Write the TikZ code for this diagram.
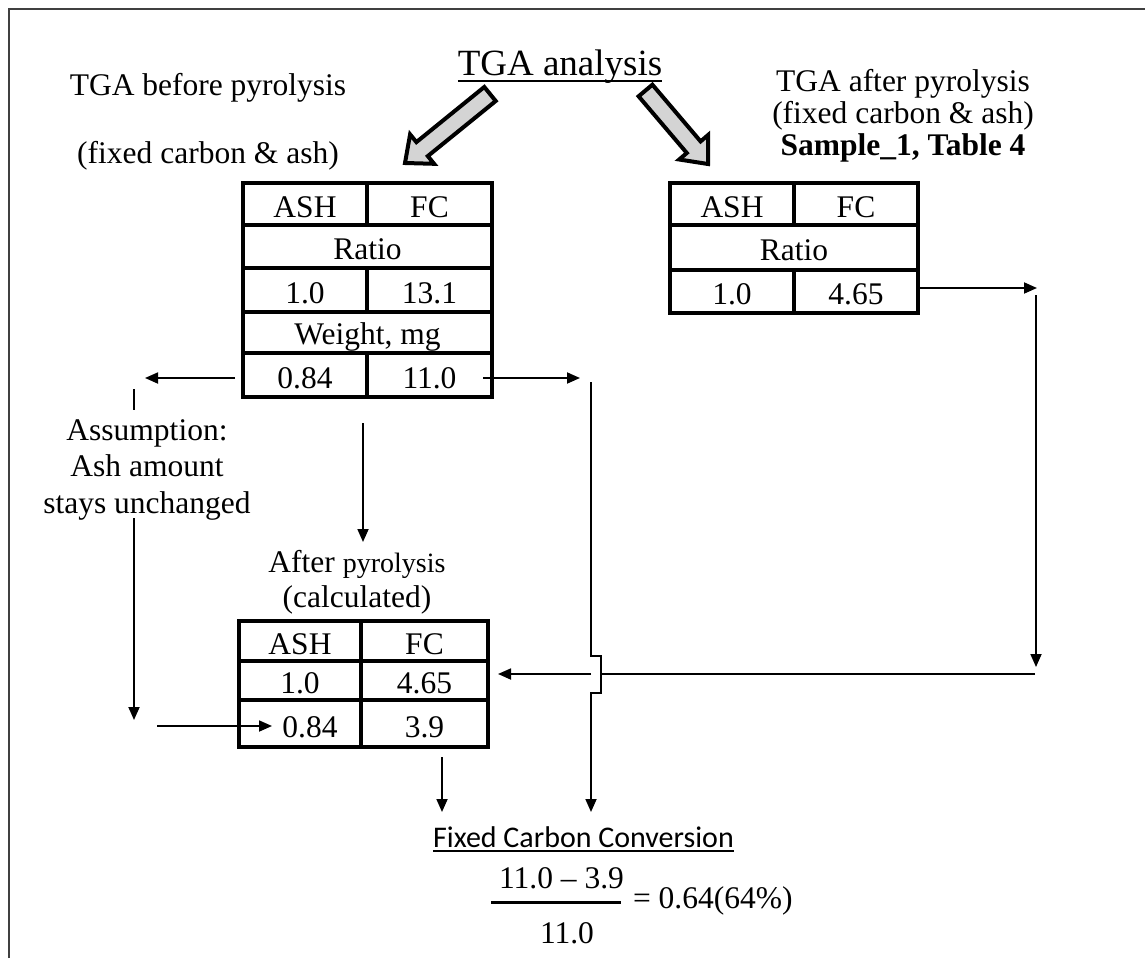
\documentclass[tikz,border=0pt]{standalone}
\usepackage{fontspec}
\setmainfont{Liberation Serif}
\newfontfamily\calibrifont{Carlito}
\usetikzlibrary{arrows.meta}
\newcommand\tfs{\fontsize{31.5}{37}\selectfont}
\begin{document}
\begin{tikzpicture}[x=1pt,y=-1pt,
  cell/.style={draw, line width=4pt, inner sep=0pt, outer sep=0pt, font=\tfs, text height=26pt, text depth=0pt},
  lbl/.style={inner sep=0pt, outer sep=0pt, anchor=base, font=\tfs},
  conn/.style={line width=1.8pt, -{Triangle[length=13pt,width=11pt]}},
  plain/.style={line width=1.8pt},
  fat/.style={line width=4pt, fill=black!17, line join=miter}]
\useasboundingbox (0,0) rectangle (1145,958);
% frame
\draw[line width=1.5pt, black!75] (9,958) -- (9,9) -- (1145,9);

% title
\node[lbl, font=\fontsize{37}{42}\selectfont] (title) at (560,75) {TGA analysis};
\draw[line width=2pt] ([yshift=-6pt]title.base west) -- ([yshift=-6pt]title.base east);

% fat arrows
\draw[fat] (484.3,87.0) -- (416.4,142.1) -- (410.1,134.4) -- (405,163) -- (434.1,163.8) -- (427.8,156.1) -- (495.7,101.0) -- cycle;
\draw[fat] (652.4,84.7) -- (700.6,141.4) -- (708.2,134.9) -- (708,164) -- (679.2,159.5) -- (686.8,153.0) -- (638.6,96.3) -- cycle;

% left labels
\node[lbl] (lb1) at (208,95) {TGA before pyrolysis};
\node[lbl] (lb2) at (208,163) {(fixed carbon \& ash)};
% right labels
\node[lbl] (rb1) at (903,91) {TGA after pyrolysis};
\node[lbl] (rb2) at (903,123) {(fixed carbon \& ash)};
\node[lbl, font=\tfs\bfseries] (rb3) at (903,155) {Sample\_1, Table 4};

% left table
\node[cell, minimum width=124pt, minimum height=42pt] (LA) at (305,204) {ASH};
\node[cell, minimum width=125pt, minimum height=42pt] (LF) at (429.5,204) {FC};
\node[cell, minimum width=249pt, minimum height=43pt] (LR) at (367.5,246.5) {Ratio};
\node[cell, minimum width=124pt, minimum height=44pt] (L1) at (305,290) {1.0};
\node[cell, minimum width=125pt, minimum height=44pt] (L2) at (429.5,290) {13.1};
\node[cell, minimum width=249pt, minimum height=41pt, text height=24pt] (LW) at (367.5,332.5) {Weight, mg};
\node[cell, minimum width=124pt, minimum height=44pt] (L3) at (305,375) {0.84};
\node[cell, minimum width=125pt, minimum height=44pt] (L4) at (429.5,375) {11.0};

% right table
\node[cell, minimum width=124pt, minimum height=42pt] (RA) at (732,204) {ASH};
\node[cell, minimum width=124pt, minimum height=42pt] (RF) at (856,204) {FC};
\node[cell, minimum width=248pt, minimum height=45pt] (RR) at (794,247.5) {Ratio};
\node[cell, minimum width=124pt, minimum height=43pt] (R1) at (732,291.5) {1.0};
\node[cell, minimum width=124pt, minimum height=43pt] (R2) at (856,291.5) {4.65};

% bottom table
\node[lbl] (ap1) at (357,572) {After {\fontsize{28}{33}\selectfont pyrolysis}};
\node[lbl] (ap2) at (357,607) {(calculated)};
\node[cell, minimum width=122pt, minimum height=40pt] (BA) at (300,641) {ASH};
\node[cell, minimum width=127pt, minimum height=40pt] (BF) at (424.5,641) {FC};
\node[cell, minimum width=122pt, minimum height=39pt] (B1) at (300,680.5) {1.0};
\node[cell, minimum width=127pt, minimum height=39pt] (B2) at (424.5,680.5) {4.65};
\node[cell, minimum width=122pt, minimum height=47pt, text height=28pt] (B3) at (300,723.5) {\hspace*{20pt}0.84};
\node[cell, minimum width=127pt, minimum height=47pt, text height=28pt] (B4) at (424.5,723.5) {3.9};

% assumption text
\node[lbl] (as1) at (147,440) {Assumption:};
\node[lbl] (as2) at (147,476) {Ash amount};
\node[lbl] (as3) at (147,513) {stays unchanged};

% coordinates
\coordinate (a1s) at (483,378);
\coordinate (a1e) at (580,378);
\coordinate (a2s) at (235,378);
\coordinate (a2e) at (145,378);
\coordinate (t1) at (134,389);
\coordinate (t2) at (134,410);
\coordinate (v1s) at (134,518);
\coordinate (v1e) at (134,720);
\coordinate (h1s) at (157,726);
\coordinate (h1e) at (272,726);
\coordinate (d1s) at (363,423);
\coordinate (d1e) at (363,542);
\coordinate (r1e) at (1037,288);
\coordinate (r2s) at (1036,295);
\coordinate (r2e) at (1036,667);
\coordinate (r3s) at (1035,674);
\coordinate (r3m) at (601,674);
\coordinate (r3n) at (591,674);
\coordinate (r3e) at (498,674);
\coordinate (j0) at (591,382);
\coordinate (j1) at (591,656);
\coordinate (j2) at (601,656);
\coordinate (j3) at (601,693);
\coordinate (j4) at (591,693);
\coordinate (j5) at (591,812);
\coordinate (d2s) at (442,757);
\coordinate (d2e) at (442,812);

% connectors
\draw[conn] (a1s) -- (a1e);
\draw[conn] (a2s) -- (a2e);
\draw[plain] (t1) -- (t2);
\draw[conn] (v1s) -- (v1e);
\draw[conn] (h1s) -- (h1e);
\draw[conn] (d1s) -- (d1e);
\draw[conn] ([yshift=3.5pt]R2.east) -- (r1e);
\draw[conn] (r2s) -- (r2e);
\draw[plain] (r3s) -- (r3m);
\draw[conn] (r3n) -- (r3e);
\draw[conn] (j0) -- (j1) -- (j2) -- (j3) -- (j4) -- (j5);
\draw[conn] (d2s) -- (d2e);

% result
\node[lbl, font=\calibrifont\fontsize{30}{36}\selectfont] (fcc) at (583.5,847) {Fixed Carbon Conversion};
\draw[line width=1.8pt] ([yshift=-4pt]fcc.base west) -- ([yshift=-4pt]fcc.base east);
\node[lbl] (num) at (561.5,888) {11.0 -- 3.9};
\coordinate (bar1) at (491,902);
\coordinate (bar2) at (621,902);
\draw[line width=3pt] (bar1) -- (bar2);
\node[lbl] (den) at (567,943) {11.0};
\node[lbl, anchor=base west] (res) at (633,908) {= 0.64(64\%)};
\end{tikzpicture}
\end{document}
